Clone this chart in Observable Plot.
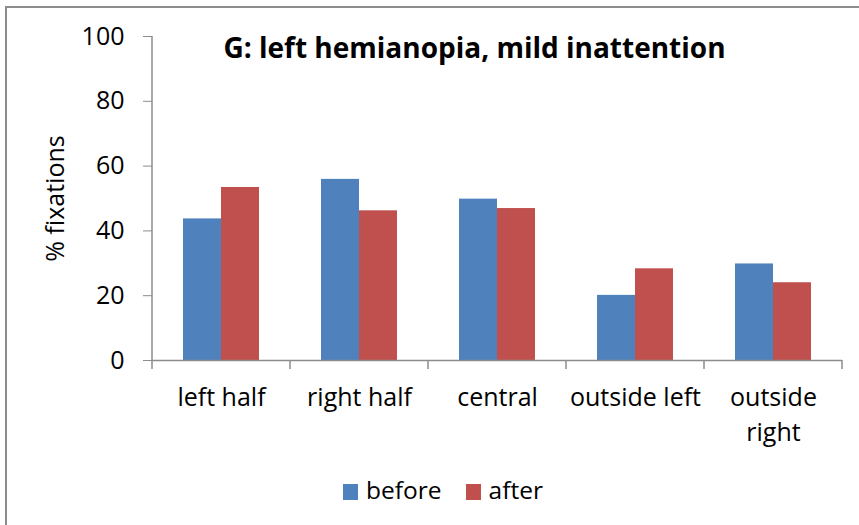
<!DOCTYPE html>
<html>
<head>
<meta charset="utf-8">
<script src="https://cdn.jsdelivr.net/npm/d3@7"></script>
<script src="https://cdn.jsdelivr.net/npm/@observablehq/plot@0.6"></script>
<style>
  html, body { margin: 0; padding: 0; background: #fff; }
  #fig { position: relative; width: 859px; height: 525px; overflow: hidden; font-family: "Open Sans", sans-serif; color: #000; }
  #border { position: absolute; left: 5px; top: 6px; width: 900px; height: 600px; border-left: 2px solid #8c8c8c; border-top: 2px solid #8c8c8c; }
  #chart { position: absolute; left: 0; top: 0; }
  #title { position: absolute; left: 0; width: 949px; top: 33px; text-align: center; font-weight: bold; font-size: 28px; line-height: 1; white-space: nowrap; }
  #legend { position: absolute; left: 0; width: 886px; top: 474px; text-align: center; font-size: 24.5px; line-height: 32px; white-space: nowrap; }
  #legend .sw { display: inline-block; width: 15px; height: 16px; vertical-align: -1px; margin-right: 8px; }
  #legend .item { margin: 0 12px; }
</style>
</head>
<body>
<div id="fig">
  <div id="border"></div>
  <div id="chart"></div>
  <div id="title"></div>
  <div id="legend"></div>
</div>
<script>
const titleText = "G: left hemianopia, mild inattention";
const yLabel = "% fixations";
const categories = ["left half", "right half", "central", "outside left", "outside right"];
const series = ["before", "after"];
const colors = ["#4F81BD", "#C0504D"];
const before = [43.7, 55.9, 49.8, 20.1, 29.8];
const after = [53.4, 46.2, 46.9, 28.3, 24.0];
const yTicks = [0, 20, 40, 60, 80, 100];

const data = categories.flatMap((c, i) => [
  {category: c, series: "before", value: before[i]},
  {category: c, series: "after", value: after[i]}
]);

const chart = Plot.plot({
  width: 859,
  height: 525,
  marginLeft: 150,
  marginRight: 16,
  marginTop: 36,
  marginBottom: 165,
  style: {fontFamily: "'Open Sans', sans-serif", fontSize: "25px", color: "#000", background: "transparent", overflow: "visible"},
  fx: {domain: categories, padding: 0, label: null},
  x: {domain: series, paddingInner: 0, paddingOuter: 0.78, axis: null},
  y: {domain: [0, 100]},
  color: {domain: series, range: colors},
  marks: [
    Plot.barY(data, {fx: "category", x: "series", y: "value", fill: "series"}),
    Plot.ruleY([0], {stroke: "#8c8c8c", strokeWidth: 1.5}),
    Plot.axisY({ticks: yTicks, tickSize: 9, tickPadding: 19, stroke: "#8c8c8c", fill: "#000", fontSize: 25,
      label: yLabel, labelAnchor: "center", labelOffset: 106, labelArrow: "none"}),
    Plot.axisFx({anchor: "bottom", tickSize: 0, tickPadding: 21, fontSize: 25, lineHeight: 1.4, label: null,
      tickFormat: d => d === "outside right" ? "outside\nright" : d})
  ]
});
document.getElementById("chart").appendChild(chart);

// axis line and category boundary ticks from the plot's own scales
const fx = chart.scale("fx");
const y = chart.scale("y");
const svg = d3.select(chart);
const g = svg.append("g").attr("stroke", "#8c8c8c").attr("stroke-width", 1.5);
const x0 = fx.apply(categories[0]);
g.append("line").attr("x1", x0).attr("x2", x0).attr("y1", y.apply(0)).attr("y2", y.apply(100));
const edges = categories.map(c => fx.apply(c)).concat([fx.apply(categories[categories.length - 1]) + fx.bandwidth]);
for (const e of edges) {
  g.append("line").attr("x1", e).attr("x2", e).attr("y1", y.apply(0)).attr("y2", y.apply(0) + 9);
}

document.getElementById("title").textContent = titleText;
const legend = document.getElementById("legend");
series.forEach((s, i) => {
  const item = document.createElement("span");
  item.className = "item";
  const sw = document.createElement("span");
  sw.className = "sw";
  sw.style.background = colors[i];
  item.appendChild(sw);
  item.appendChild(document.createTextNode(s));
  legend.appendChild(item);
});
</script>
</body>
</html>
